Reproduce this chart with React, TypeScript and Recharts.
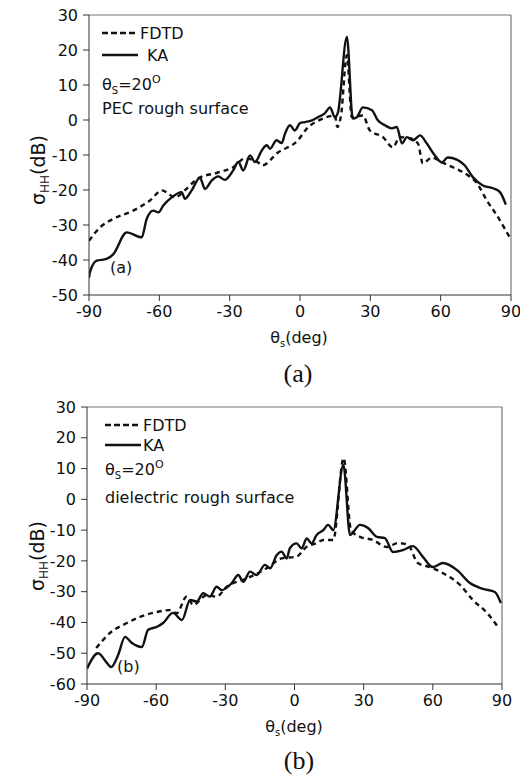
import React from 'react';
import { LineChart, Line, XAxis, YAxis, ReferenceLine } from 'recharts';

// (a) PEC rough surface, theta_i = 20 deg
const pecKaDeg = [-90, -89.6, -86.7, -82.5, -79.6, -73.9, -67.5, -65.4, -62.6, -60.4, -58.3, -54.7, -50.5, -49.1, -46.2, -42.7, -40.5, -37.7, -34.9, -32, -28.5, -26.3, -24.2, -21.3, -19.2, -16.3, -14.2, -12.8, -10, -7.8, -6.4, -4.3, -2.2, 0, 2.1, 5.1, 7.7, 10.6, 12.8, 14.9, 16.2, 20, 22.5, 24.2, 26.8, 30.7, 33.2, 36.2, 39.2, 41.3, 43.5, 45.6, 48.2, 51.2, 54.1, 57.5, 60.5, 63, 66.9, 70.3, 73.8, 78, 82.3, 85.3, 87.8];
const pecKaDb = [-45, -43.5, -40.2, -39.7, -38.3, -32.1, -33.5, -28.3, -25.9, -26.4, -24.4, -22.1, -20.6, -22.5, -20.1, -16.5, -19.7, -17.3, -16.1, -17.1, -14.4, -12, -14.4, -10.1, -12, -8.7, -7.2, -8.2, -5.8, -6.6, -3.9, -1.5, -3, -0.9, -0.6, -0.1, 0.8, 1.9, 3.6, 0.8, 2.2, 23.7, 0.4, 0.8, 3.6, 2.8, -0.1, -1.5, -2.4, -2, -6.7, -4.9, -5.8, -4.4, -6.7, -10.1, -12.1, -10.7, -11.3, -13, -16.4, -18.7, -19.5, -20.6, -24.2];
const pecFdtdDeg = [-90, -85.3, -79.8, -71.2, -64, -58.9, -53.3, -49, -43.5, -35, -28.5, -23.5, -17.9, -16.2, -9.4, -0.9, 3, 9.8, 14.9, 15.9, 17.5, 20, 22.1, 26.8, 29.8, 35.4, 39.6, 42.6, 46.9, 50.3, 52.4, 56.3, 60.5, 65.2, 71.6, 75.5, 79.7, 84, 89.5];
const pecFdtdDb = [-34.5, -30.7, -28.3, -25.9, -23, -20.1, -22.1, -20, -16.7, -15, -13.5, -11, -12.1, -13, -9.3, -5.8, -2.4, 0.4, 1.3, -2, 1.3, 18.5, 0.8, 1.3, -3, -4.9, -7.8, -4.9, -5.2, -6.7, -12.4, -10.7, -12.1, -13.5, -15.8, -18.1, -23, -27.3, -33.6];

// (b) dielectric rough surface
const dieKaDeg = [-90, -85.2, -81.3, -79.5, -76.5, -73.5, -70.5, -66.2, -63.5, -59.6, -57, -52.7, -48.8, -45.3, -42.4, -39.6, -36.7, -33.8, -31.6, -27.3, -24.4, -22.2, -19.3, -16.4, -12.8, -10.6, -7.7, -5.6, -3.4, -2, 0.9, 3.1, 5.3, 7.4, 9.6, 12.5, 14.6, 16.8, 21.2, 24.1, 28.4, 31.9, 35.8, 39.2, 42.7, 47, 51.4, 55.7, 60, 64.4, 70.5, 76.1, 81.7, 86.9, 89.5];
const dieKaDb = [-55, -50, -53.2, -54.5, -50.6, -44.7, -46.7, -48, -42.4, -41.4, -40.2, -36.9, -39.2, -32.7, -33.2, -30.5, -31.6, -28.4, -29.5, -27.3, -24.6, -26.8, -23.5, -24.6, -21.3, -22.4, -18.1, -17, -19.2, -15.9, -14.3, -15.9, -12.7, -14.3, -11.6, -10, -8.3, -10, 11.2, -11.6, -8.3, -9.3, -12.2, -12.6, -17.1, -16.5, -15.2, -18.7, -22, -20.7, -23, -27.2, -29.1, -30.1, -33.7];
const dieFdtdDeg = [-86, -80, -72.7, -67, -59.6, -54, -51.1, -46.8, -43.9, -38, -33.8, -29.4, -20.7, -12.1, -5.6, 0.9, 5.3, 9.7, 12.5, 16.8, 21.3, 24.5, 28.4, 34, 40.1, 44.9, 49.2, 53.5, 58.7, 64.4, 71.8, 77.4, 83.5, 88.2];
const dieFdtdDb = [-48.3, -43.4, -40.2, -38.2, -36.6, -36, -37, -31.6, -34.3, -31.1, -31.6, -28.4, -25.7, -22.4, -19.2, -18.6, -15.4, -14.2, -13.2, -13.2, 13.4, -10, -12.2, -13.2, -15.5, -14.2, -14.8, -20.7, -22, -24, -27.8, -32.7, -36.9, -41.4];

const xTicks = [-90, -60, -30, 0, 30, 60, 90];
const pecYTicks = [-50, -40, -30, -20, -10, 0, 10, 20, 30];
const dieYTicks = [-60, -50, -40, -30, -20, -10, 0, 10, 20, 30];

const FONT = '"DejaVu Sans", sans-serif';
const SERIF = '"Liberation Serif", "Times New Roman", serif';
const INK = '#111';

const zip = (deg: number[], db: number[]) => deg.map((x, i) => ({ x, y: db[i] }));

const XLabel = ({ cx, y }: any) => (
  <text x={cx} y={y} textAnchor="middle" fontFamily={FONT} fontSize={16} fill={INK}>
    θ<tspan fontSize={10} dy={4}>s</tspan>
    <tspan dy={-4}>(deg)</tspan>
  </text>
);

const YLabel = ({ x, cy }: any) => (
  <text transform={`translate(${x},${cy}) rotate(-90)`} textAnchor="middle" fontFamily={FONT} fontSize={19} fill={INK}>
    σ<tspan fontSize={12} dy={4}>HH</tspan>
    <tspan dy={-4}>(dB)</tspan>
  </text>
);

function Panel({ ka, fdtd, yMin, yTicks, lay, surface, tag, letter }: any) {
  return (
    <div style={{ position: 'relative', width: 520, height: 390 }}>
      <LineChart width={520} height={390} margin={{ top: lay.top, right: lay.right, left: 0, bottom: 0 }}>
        <XAxis
          type="number"
          dataKey="x"
          domain={[-90, 90]}
          ticks={xTicks}
          allowDataOverflow
          height={lay.xh}
          tickSize={6}
          tickMargin={5}
          stroke="#333"
          tick={{ fill: INK, fontSize: 16, fontFamily: FONT }}
          label={<XLabel cx={lay.xlx} y={lay.xly} />}
        />
        <YAxis
          type="number"
          domain={[yMin, 30]}
          ticks={yTicks}
          allowDataOverflow
          width={lay.yw}
          tickSize={6}
          tickMargin={5}
          stroke="#333"
          tick={{ fill: INK, fontSize: 16, fontFamily: FONT }}
          label={<YLabel x={30} cy={lay.ylc} />}
        />
        <ReferenceLine y={30} stroke="#777" strokeWidth={1.2} />
        <ReferenceLine x={90} stroke="#777" strokeWidth={1.2} />
        <Line data={fdtd} dataKey="y" name="FDTD" type="monotone" stroke={INK} strokeWidth={2.4}
          strokeDasharray="5 4" dot={false} isAnimationActive={false} />
        <Line data={ka} dataKey="y" name="KA" type="monotone" stroke={INK} strokeWidth={2.4}
          dot={false} isAnimationActive={false} />
      </LineChart>

      {/* in-plot legend and notes */}
      <svg width={520} height={390} style={{ position: 'absolute', left: 0, top: 0, pointerEvents: 'none' }}>
        <g fontFamily={FONT} fontSize={16} fill={INK}>
          <line x1={lay.lx} x2={lay.lx + 36} y1={lay.dashY} y2={lay.dashY} stroke={INK} strokeWidth={2.4} strokeDasharray="6 3" />
          <text x={lay.lx + 38} y={lay.dashY + 6}>FDTD</text>
          <line x1={lay.lx} x2={lay.lx + 36} y1={lay.solidY} y2={lay.solidY} stroke={INK} strokeWidth={2.4} />
          <text x={lay.kaX} y={lay.solidY + 6}>KA</text>
          <text x={lay.lx} y={lay.thetaY}>
            θ<tspan fontSize={10} dy={4}>S</tspan>
            <tspan dy={-4}>=20</tspan>
            <tspan fontSize={11} dy={-7}>O</tspan>
          </text>
          <text x={lay.lx} y={lay.surfY}>{surface}</text>
          <text x={lay.tagX} y={lay.tagY}>{tag}</text>
        </g>
        <text x={lay.letterX} y={lay.letterY} textAnchor="middle" fontFamily={SERIF} fontSize={26} fill={INK}>
          {letter}
        </text>
      </svg>
    </div>
  );
}

const pecLayout = {
  top: 15, right: 9, yw: 89, xh: 95, xlx: 299, xly: 349, ylc: 170,
  lx: 102, dashY: 33, solidY: 55, kaX: 147, thetaY: 90, surfY: 114,
  tagX: 110, tagY: 273, letterX: 298, letterY: 382,
};

const dieLayout = {
  top: 17, right: 18, yw: 87, xh: 96, xlx: 294, xly: 345, ylc: 166,
  lx: 105, dashY: 35, solidY: 55, kaX: 143, thetaY: 85, surfY: 113,
  tagX: 117, tagY: 282, letterX: 299, letterY: 379,
};

export default function App() {
  return (
    <div style={{ position: 'absolute', left: 0, top: 0, width: 520, height: 780, background: '#fff', fontFamily: FONT }}>
      <Panel
        ka={zip(pecKaDeg, pecKaDb)}
        fdtd={zip(pecFdtdDeg, pecFdtdDb)}
        yMin={-50}
        yTicks={pecYTicks}
        lay={pecLayout}
        surface="PEC rough surface"
        tag="(a)"
        letter="(a)"
      />
      <Panel
        ka={zip(dieKaDeg, dieKaDb)}
        fdtd={zip(dieFdtdDeg, dieFdtdDb)}
        yMin={-60}
        yTicks={dieYTicks}
        lay={dieLayout}
        surface="dielectric rough surface"
        tag="(b)"
        letter="(b)"
      />
    </div>
  );
}
